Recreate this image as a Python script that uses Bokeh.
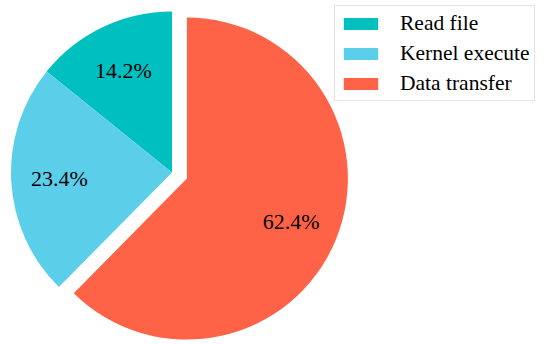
import math
from bokeh.plotting import figure
from bokeh.models import Range1d, Legend, LegendItem, ColumnDataSource
from bokeh.core.properties import value
from bokeh.embed import file_html
from bokeh.resources import INLINE

labels = ["Read file", "Kernel execute", "Data transfer"]
shares = [14.2, 23.4, 62.4]
colors = ["#00BFBF", "#5BCFEA", "#FF6347"]
explode = [0.0, 0.0, 0.1]

W, H = 548, 343
p = figure(width=W, height=H, output_backend="svg", toolbar_location=None,
           x_range=Range1d(0, W), y_range=Range1d(345 - H, 345),
           min_border=0, outline_line_color=None)
p.axis.visible = False
p.grid.visible = False

cx, cy, R = 171.5, 173.0, 161.0
total = sum(shares)
start = math.pi / 2
xs, ys, sa, ea, lx, ly, txt = [], [], [], [], [], [], []
for s, e in zip(shares, explode):
    span = 2 * math.pi * s / total
    mid = start + span / 2
    ox = cx + e * R * math.cos(mid)
    oy = cy + e * R * math.sin(mid)
    xs.append(ox); ys.append(oy)
    sa.append(start); ea.append(start + span)
    lx.append(ox + 0.7 * R * math.cos(mid))
    ly.append(oy + 0.7 * R * math.sin(mid))
    txt.append(f"{s:.1f}%")
    start += span

src = ColumnDataSource(dict(x=xs, y=ys, sa=sa, ea=ea, color=colors, label=labels))
r = p.wedge(x="x", y="y", radius=R, start_angle="sa", end_angle="ea",
            direction="anticlock", fill_color="color", line_color=None, source=src)

p.text(x=lx, y=ly, text=txt, text_align="center", text_baseline="middle",
       text_font=value("Liberation Serif"), text_font_size="22px", text_color="#000000")

items = [LegendItem(label=lab, renderers=[r], index=i) for i, lab in enumerate(labels)]
legend = Legend(items=items, location=(334, 242), padding=4, spacing=4,
                glyph_width=43, glyph_height=15, label_height=26, label_standoff=18,
                label_text_font="Liberation Serif", label_text_font_size="21.5px",
                label_text_color="#000000", border_line_color="#cccccc",
                border_line_width=1, background_fill_alpha=1.0, margin=0)
p.add_layout(legend)

open("out.html", "w").write(file_html(p, INLINE))
